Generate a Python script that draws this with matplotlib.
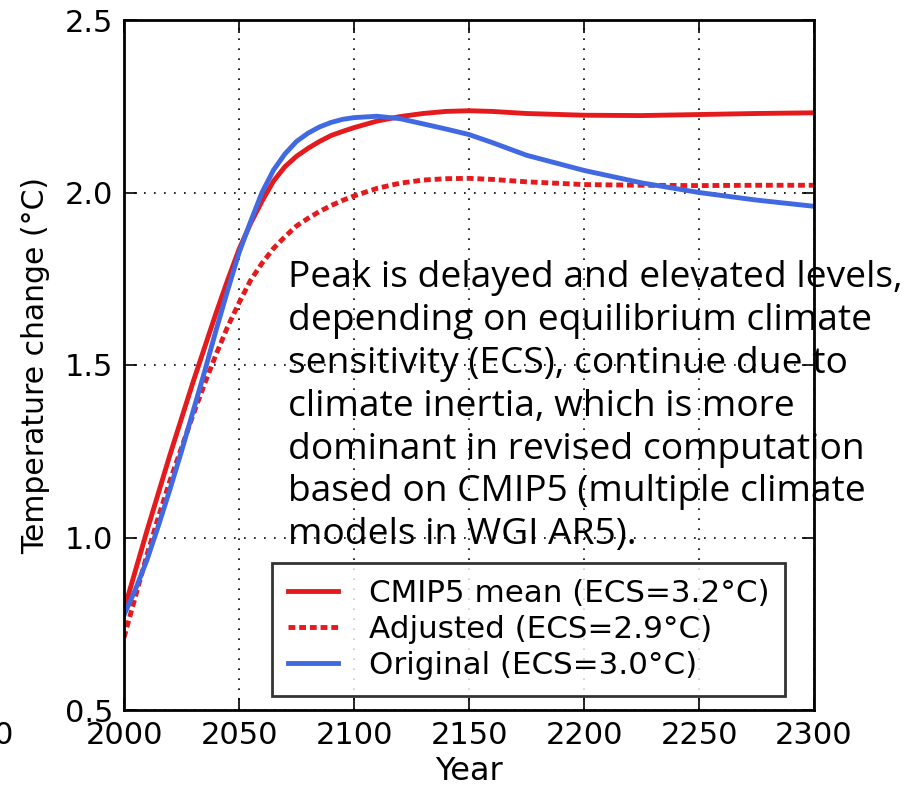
import matplotlib
matplotlib.use("Agg")
import matplotlib.pyplot as plt

years = [2000, 2005, 2010, 2015, 2020, 2025, 2030, 2035, 2040, 2045, 2050, 2055,
         2060, 2065, 2070, 2075, 2080, 2085, 2090, 2095, 2100, 2110, 2120, 2130,
         2140, 2150, 2160, 2175, 2200, 2225, 2250, 2275, 2300]

cmip5_mean = [0.79, 0.905, 1.02, 1.13, 1.24, 1.345, 1.45, 1.55, 1.65, 1.745, 1.835, 1.91,
              1.975, 2.033, 2.075, 2.105, 2.128, 2.148, 2.165, 2.177, 2.188, 2.207, 2.22, 2.229,
              2.235, 2.237, 2.235, 2.229, 2.224, 2.223, 2.226, 2.229, 2.231]

adjusted = [0.71, 0.83, 0.95, 1.06, 1.165, 1.26, 1.355, 1.445, 1.53, 1.61, 1.68, 1.745,
            1.795, 1.838, 1.872, 1.903, 1.925, 1.945, 1.962, 1.977, 1.99, 2.012, 2.027, 2.036,
            2.04, 2.041, 2.038, 2.031, 2.023, 2.021, 2.02, 2.021, 2.021]

original = [0.775, 0.85, 0.935, 1.035, 1.14, 1.25, 1.365, 1.48, 1.60, 1.715, 1.825, 1.915,
            2.0, 2.065, 2.112, 2.148, 2.172, 2.19, 2.203, 2.212, 2.217, 2.221, 2.214, 2.199,
            2.184, 2.168, 2.145, 2.108, 2.064, 2.028, 2.0, 1.978, 1.96]

labels = ["CMIP5 mean (ECS=3.2°C)", "Adjusted (ECS=2.9°C)", "Original (ECS=3.0°C)"]
xticks = [2000, 2050, 2100, 2150, 2200, 2250, 2300]
yticks = [0.5, 1.0, 1.5, 2.0, 2.5]

note = ("Peak is delayed and elevated levels,\n"
        "depending on equilibrium climate\n"
        "sensitivity (ECS), continue due to\n"
        "climate inertia, which is more\n"
        "dominant in revised computation\n"
        "based on CMIP5 (multiple climate\n"
        "models in WGI AR5).")

red = "#e41a1c"
blue = "#4169e1"

fig = plt.figure(figsize=(9.16, 7.87), dpi=100)
ax = fig.add_axes([124 / 916, 1 - 710 / 787, 690 / 916, 690 / 787])

ax.plot(years, cmip5_mean, color=red, lw=3.5, label=labels[0])
ax.plot(years, adjusted, color=red, lw=3.5, dashes=(1.4, 0.8), label=labels[1])
ax.plot(years, original, color=blue, lw=3.5, label=labels[2])

ax.set_xlim(2000, 2300)
ax.set_ylim(0.5, 2.5)
ax.set_xticks(xticks)
ax.set_yticks(yticks)
ax.set_yticklabels([f"{v:.1f}" for v in yticks])
ax.grid(True, color="black", linestyle=(0, (1, 5)), lw=1.2)
ax.tick_params(direction="in", length=9, width=1.2, top=True, right=True,
               labelsize=22, pad=8)
for s in ax.spines.values():
    s.set_linewidth(2)

ax.set_xlabel("Year", fontsize=23, labelpad=4)
ax.set_ylabel("Temperature change (°C)", fontsize=21.5, labelpad=10)

leg = ax.legend(loc="upper left", bbox_to_anchor=(272 / 916, 1 - 563 / 787),
                bbox_transform=fig.transFigure, fontsize=22.3, frameon=True,
                fancybox=False, handlelength=1.6, handletextpad=1.0,
                borderpad=0.52, labelspacing=0.22, borderaxespad=0)
leg.get_frame().set_edgecolor("black")
leg.get_frame().set_linewidth(2)

# multi-line text with va="baseline" anchors on the last line
fig.text(288 / 916, 1 - 544 / 787, note, family="Open Sans", fontsize=26.7,
         va="baseline", ha="left", linespacing=1.25)

fig.text(0.004, 1 - 735 / 787, "0", fontsize=22, ha="center", va="center")

fig.savefig("out.png", dpi=100)
